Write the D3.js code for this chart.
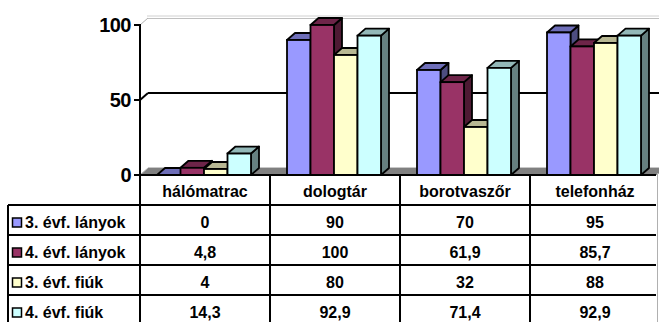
<!DOCTYPE html>
<html>
<head>
<meta charset="utf-8">
<script src="https://cdn.jsdelivr.net/npm/d3@7"></script>
<style>
  html, body { margin: 0; padding: 0; background: #fff; }
  svg { display: block; font-family: "Liberation Sans", Arial, sans-serif; font-weight: bold; }
</style>
</head>
<body>
<svg id="chart" width="659" height="322"></svg>
<script>
// Survey results per item, four student groups
const categories = ["hálómatrac", "dologtár", "borotvaszőr", "telefonház"];
const seriesNames = ["3. évf. lányok", "4. évf. lányok", "3. évf. fiúk", "4. évf. fiúk"];
const lanyok3 = [0, 90, 70, 95];
const lanyok4 = [4.8, 100, 61.9, 85.7];
const fiuk3 = [4, 80, 32, 88];
const fiuk4 = [14.3, 92.9, 71.4, 92.9];
const valueLabels = [
  ["0", "90", "70", "95"],
  ["4,8", "100", "61,9", "85,7"],
  ["4", "80", "32", "88"],
  ["14,3", "92,9", "71,4", "92,9"]
];
const yTicks = [0, 50, 100];
const seriesColors = ["#9999FF", "#993366", "#FFFFCC", "#CCFFFF"];

const seriesValues = [lanyok3, lanyok4, fiuk3, fiuk4];

const svg = d3.select("#chart");
const W = 659;

// layout
const plotLeft = 140, plotRight = 660;
const y0 = 175, yTop = 25;
const DX = 8, DY = -7;          // 3D depth offset
const rowH = 30;
const tableLeft = 8, tableRight = 656;

const x = d3.scaleBand().domain(categories).range([plotLeft, plotRight]).padding(0);
const xs = d3.scaleBand().domain(d3.range(seriesNames.length)).range([17, 17 + 94]).padding(0);
const y = d3.scaleLinear().domain([0, 100]).range([y0, yTop]);

// floor
svg.append("polygon")
  .attr("points", [[plotLeft, y0], [tableRight + 1, y0], [tableRight + 1 + DX, y0 + DY], [plotLeft + DX, y0 + DY]].map(p => p.join(",")).join(" "))
  .attr("fill", "#808080");
svg.append("line")
  .attr("x1", plotLeft + DX).attr("x2", W).attr("y1", y0 + DY - 0.5).attr("y2", y0 + DY - 0.5)
  .attr("stroke", "#c8c8c8").attr("stroke-width", 1);

// back wall gridlines
yTicks.forEach(t => {
  const gy = y(t) + DY;
  if (t === 50) {
    svg.append("line").attr("x1", plotLeft + DX).attr("x2", W).attr("y1", gy).attr("y2", gy)
      .attr("stroke", "#000").attr("stroke-width", 2);
    svg.append("line").attr("x1", plotLeft).attr("y1", y(t)).attr("x2", plotLeft + DX).attr("y2", gy)
      .attr("stroke", "#000").attr("stroke-width", 2);
  } else if (t === 100) {
    svg.append("line").attr("x1", plotLeft + DX - 1).attr("x2", W).attr("y1", gy - 2).attr("y2", gy - 2)
      .attr("stroke", "#d0d0d0").attr("stroke-width", 1);
    svg.append("line").attr("x1", plotLeft + DX).attr("x2", W).attr("y1", gy + 0.5).attr("y2", gy + 0.5)
      .attr("stroke", "#c0c0c0").attr("stroke-width", 1);
    svg.append("line").attr("x1", plotLeft).attr("y1", y(t)).attr("x2", plotLeft + DX).attr("y2", gy)
      .attr("stroke", "#b0b0b0").attr("stroke-width", 1);
  } else {
    svg.append("line").attr("x1", plotLeft).attr("y1", y(t)).attr("x2", plotLeft + DX).attr("y2", gy)
      .attr("stroke", "#b0b0b0").attr("stroke-width", 1);
  }
});

// bars
const shade = (c, k) => {
  const r = d3.rgb(c);
  return d3.rgb(r.r * k, r.g * k, r.b * k).formatHex();
};
const stroke = "#000", sw = 1.8;
categories.forEach((cat, ci) => {
  const g = svg.append("g");
  seriesValues.forEach((vals, si) => {
    const v = vals[ci];
    const bx = x(cat) + xs(si);
    const bw = xs.bandwidth();
    const by = y(v);
    const col = seriesColors[si];
    // side face
    g.append("polygon")
      .attr("points", [[bx + bw, by], [bx + bw + DX, by + DY], [bx + bw + DX, y0 + DY], [bx + bw, y0]].map(p => p.join(",")).join(" "))
      .attr("fill", shade(col, 0.5)).attr("stroke", stroke).attr("stroke-width", sw).attr("stroke-linejoin", "round");
    // top face
    g.append("polygon")
      .attr("points", [[bx, by], [bx + DX, by + DY], [bx + bw + DX, by + DY], [bx + bw, by]].map(p => p.join(",")).join(" "))
      .attr("fill", shade(col, 0.72)).attr("stroke", stroke).attr("stroke-width", sw).attr("stroke-linejoin", "round");
    // front face
    if (v > 0) {
      g.append("rect")
        .attr("x", bx).attr("y", by).attr("width", bw).attr("height", y0 - by)
        .attr("fill", col).attr("stroke", stroke).attr("stroke-width", sw);
    }
  });
});

// value axis
svg.append("line").attr("x1", plotLeft).attr("x2", plotLeft).attr("y1", yTop - 1).attr("y2", y0 + 1)
  .attr("stroke", "#000").attr("stroke-width", 2);
yTicks.forEach(t => {
  svg.append("line").attr("x1", plotLeft - 6).attr("x2", plotLeft).attr("y1", y(t)).attr("y2", y(t))
    .attr("stroke", "#000").attr("stroke-width", 2);
  svg.append("text").attr("x", 131).attr("y", y(t) + 7).attr("text-anchor", "end")
    .attr("font-size", 20).attr("letter-spacing", -0.5).text(t);
});

// data table
const tableTop = y0;
const lines = svg.append("g").attr("stroke", "#000").attr("stroke-width", 2);
// horizontal rules
lines.append("line").attr("x1", plotLeft).attr("x2", tableRight).attr("y1", tableTop).attr("y2", tableTop);
for (let r = 1; r <= seriesNames.length; r++) {
  const ry = tableTop + r * rowH;
  lines.append("line").attr("x1", tableLeft).attr("x2", tableRight).attr("y1", ry).attr("y2", ry);
}
// vertical rules
lines.append("line").attr("x1", tableLeft).attr("x2", tableLeft).attr("y1", tableTop + rowH).attr("y2", 322);
categories.forEach(cat => {
  lines.append("line").attr("x1", x(cat)).attr("x2", x(cat)).attr("y1", tableTop).attr("y2", 322);
});
svg.append("line").attr("x1", 657.5).attr("x2", 657.5).attr("y1", tableTop - 2).attr("y2", 322)
  .attr("stroke", "#b0b0b0").attr("stroke-width", 1);

// header
categories.forEach(cat => {
  svg.append("text").attr("x", x(cat) + x.bandwidth() / 2).attr("y", tableTop + 22)
    .attr("text-anchor", "middle").attr("font-size", 16).text(cat);
});
// rows
seriesNames.forEach((name, si) => {
  const rt = tableTop + (si + 1) * rowH;
  svg.append("rect").attr("x", 12.5).attr("y", rt + 13).attr("width", 9).attr("height", 9)
    .attr("fill", seriesColors[si]).attr("stroke", "#000").attr("stroke-width", 1.5);
  svg.append("text").attr("x", 25).attr("y", rt + 23).attr("font-size", 16).text(name);
  categories.forEach((cat, ci) => {
    svg.append("text").attr("x", x(cat) + x.bandwidth() / 2).attr("y", rt + 23)
      .attr("text-anchor", "middle").attr("font-size", 16).text(valueLabels[si][ci]);
  });
});
</script>
</body>
</html>
